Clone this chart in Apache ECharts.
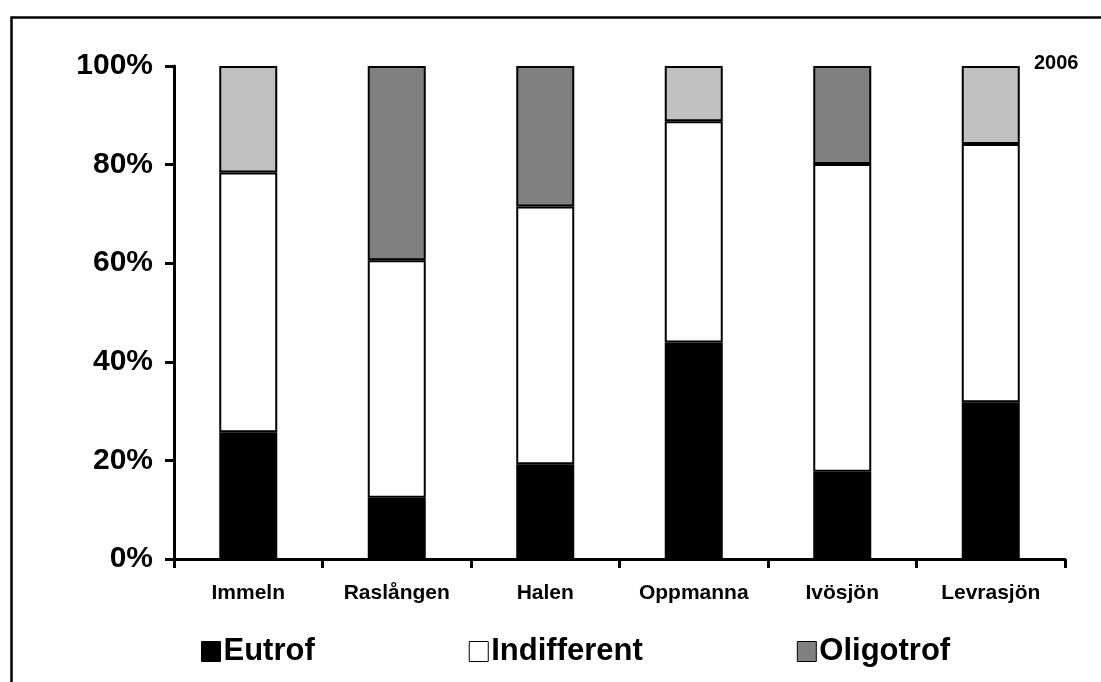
<!DOCTYPE html>
<html>
<head>
<meta charset="utf-8">
<script src="https://cdn.jsdelivr.net/npm/echarts@6/dist/echarts.min.js"></script>
<style>
html,body{margin:0;padding:0;background:#fff;}
#chart{width:1101px;height:682px;}
</style>
</head>
<body>
<div id="chart"></div>
<script>
// Data (percent of each lake)
var categories = ['Immeln', 'Raslången', 'Halen', 'Oppmanna', 'Ivösjön', 'Levrasjön'];
var eutrof = [25.7, 12.4, 19.2, 43.9, 17.7, 31.8];
var indifferent = [52.7, 48.2, 52.3, 44.9, 62.4, 52.4];
var oligotrof = [21.6, 39.4, 28.5, 11.2, 19.9, 15.8];
var yTicks = [0, 20, 40, 60, 80, 100];
var yearLabel = '2006';

// Styling: oligotrof segments that are drawn in light gray in the original
var oligoLight = ['Immeln', 'Oppmanna', 'Levrasjön'];

var FONT = '"Liberation Sans", Arial, sans-serif';
var chart = echarts.init(document.getElementById('chart'));

var oligoData = oligotrof.map(function (v, i) {
  if (oligoLight.indexOf(categories[i]) >= 0) {
    return { value: v, itemStyle: { color: '#c0c0c0' } };
  }
  return v;
});

var segBorder = { borderColor: '#000', borderWidth: 2 };

chart.setOption({
  animation: false,
  backgroundColor: '#fff',
  grid: { left: 174, right: 36, top: 66, bottom: 123, containLabel: false },
  legend: {
    left: 196,
    top: 631,
    itemGap: 154,
    itemWidth: 19,
    itemHeight: 20,
    icon: 'rect',
    selectedMode: false,
    textStyle: { fontFamily: FONT, fontSize: 31, fontWeight: 'bold', color: '#000', padding: [0, 0, 0, -2] },
    itemStyle: { borderColor: '#000', borderWidth: 1 },
    data: ['Eutrof', 'Indifferent', 'Oligotrof']
  },
  xAxis: {
    type: 'category',
    data: categories,
    boundaryGap: true,
    axisLine: { lineStyle: { color: '#000', width: 3 } },
    axisTick: { show: true, length: 9, lineStyle: { color: '#000', width: 3 }, alignWithLabel: false },
    axisLabel: { margin: 24, fontFamily: FONT, fontSize: 21, fontWeight: 'bold', color: '#000', interval: 0 },
    splitLine: { show: false }
  },
  yAxis: {
    type: 'value',
    min: yTicks[0],
    max: yTicks[yTicks.length - 1],
    interval: yTicks[1] - yTicks[0],
    axisLine: { show: true, lineStyle: { color: '#000', width: 3 } },
    axisTick: { show: true, length: 9, lineStyle: { color: '#000', width: 3 } },
    axisLabel: { margin: 21, fontFamily: FONT, fontSize: 30, fontWeight: 'bold', color: '#000', formatter: '{value}%' },
    splitLine: { show: false }
  },
  series: [
    { name: 'Eutrof', type: 'bar', stack: 'a', barWidth: 58, data: eutrof,
      itemStyle: Object.assign({ color: '#000' }, segBorder) },
    { name: 'Indifferent', type: 'bar', stack: 'a', barWidth: 58, data: indifferent,
      itemStyle: Object.assign({ color: '#fff' }, segBorder) },
    { name: 'Oligotrof', type: 'bar', stack: 'a', barWidth: 58, data: oligoData,
      itemStyle: Object.assign({ color: '#808080' }, segBorder) }
  ],
  graphic: [
    { type: 'rect', left: 9, top: 15, silent: true, z: 0,
      shape: { x: 0, y: 0, width: 1300, height: 900 },
      style: { fill: 'none', stroke: '#000', lineWidth: 2.5 } },
    { type: 'text', left: 1034, top: 53, z: 10,
      style: { text: yearLabel, fill: '#000', font: 'bold 20px ' + FONT } }
  ]
});
</script>
</body>
</html>
